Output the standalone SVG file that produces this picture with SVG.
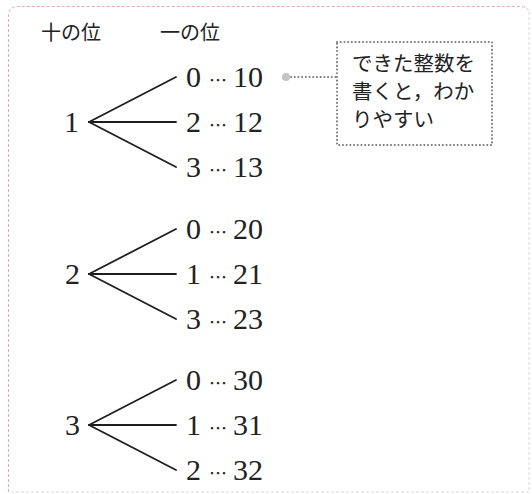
<svg xmlns="http://www.w3.org/2000/svg" width="532" height="494" viewBox="0 0 532 494">
<style>
.frameA{fill:none;stroke:#e6a9b8;stroke-width:1;stroke-dasharray:3 2}
.frameB{fill:none;stroke:#d3dbe2;stroke-width:1;stroke-dasharray:3 2}
.hdr{font-family:"Noto Sans CJK JP",sans-serif;font-size:20px;fill:#222}
.num{font-family:'Liberation Serif','Times New Roman',Times,serif;font-size:30px;fill:#222}
.dots{font-family:'Noto Sans CJK JP',sans-serif;font-size:18px;fill:#222}
.note{font-family:"Noto Sans CJK JP",sans-serif;font-size:20.5px;fill:#222}
.branch{stroke:#1e1e1e;stroke-width:1.8;fill:none;stroke-linecap:round}
.dotted{fill:none;stroke:#7a7a7a;stroke-width:2;stroke-dasharray:0.1 3.6;stroke-linecap:round}
</style>
<path class="frameA" d="M8.5,492 V16 Q8.5,6.5 18,6.5 H520 Q528,6.5 529,12"/>
<path class="frameB" d="M529,12 V492 H12"/>
<g id="header">
<text class="hdr" x="41" y="40">十の位</text>
<text class="hdr" x="160" y="40">一の位</text>
</g>
<g id="connectors">
<line class="branch" x1="89" y1="122" x2="176" y2="77"/>
<line class="branch" x1="89" y1="122" x2="176" y2="122"/>
<line class="branch" x1="89" y1="122" x2="176" y2="167"/>
<line class="branch" x1="89" y1="274" x2="176" y2="229"/>
<line class="branch" x1="89" y1="274" x2="176" y2="274"/>
<line class="branch" x1="89" y1="274" x2="176" y2="319"/>
<line class="branch" x1="89" y1="425" x2="176" y2="380"/>
<line class="branch" x1="89" y1="425" x2="176" y2="425"/>
<line class="branch" x1="89" y1="425" x2="176" y2="470"/>
<line class="dotted" x1="291" y1="77" x2="337" y2="77"/>
</g>
<g id="root1"><text class="num" x="64" y="132" font-family="Liberation Serif">1</text></g>
<g id="n10"><text class="num" x="186" y="87">0<tspan class="dots" x="209" y="87">…</tspan><tspan x="263" text-anchor="end">10</tspan></text></g>
<g id="n12"><text class="num" x="186" y="132">2<tspan class="dots" x="209" y="132">…</tspan><tspan x="263" text-anchor="end">12</tspan></text></g>
<g id="n13"><text class="num" x="186" y="177">3<tspan class="dots" x="209" y="177">…</tspan><tspan x="263" text-anchor="end">13</tspan></text></g>
<g id="root2"><text class="num" x="65" y="284">2</text></g>
<g id="n20"><text class="num" x="186" y="239">0<tspan class="dots" x="209" y="239">…</tspan><tspan x="263" text-anchor="end">20</tspan></text></g>
<g id="n21"><text class="num" x="186" y="284">1<tspan class="dots" x="209" y="284">…</tspan><tspan x="263" text-anchor="end">21</tspan></text></g>
<g id="n23"><text class="num" x="186" y="329">3<tspan class="dots" x="209" y="329">…</tspan><tspan x="263" text-anchor="end">23</tspan></text></g>
<g id="root3"><text class="num" x="65" y="435">3</text></g>
<g id="n30"><text class="num" x="186" y="390">0<tspan class="dots" x="209" y="390">…</tspan><tspan x="263" text-anchor="end">30</tspan></text></g>
<g id="n31"><text class="num" x="186" y="435">1<tspan class="dots" x="209" y="435">…</tspan><tspan x="263" text-anchor="end">31</tspan></text></g>
<g id="n32"><text class="num" x="186" y="480">2<tspan class="dots" x="209" y="480">…</tspan><tspan x="263" text-anchor="end">32</tspan></text></g>
<g id="callout">
<circle cx="286" cy="77" r="4" fill="#c4c4c4"/>
<rect class="dotted" x="337" y="42" width="155" height="103"/>
<text class="note" x="352" y="71">できた整数を</text>
<text class="note" x="352" y="99">書くと，わか</text>
<text class="note" x="352" y="127">りやすい</text>
</g>
</svg>
